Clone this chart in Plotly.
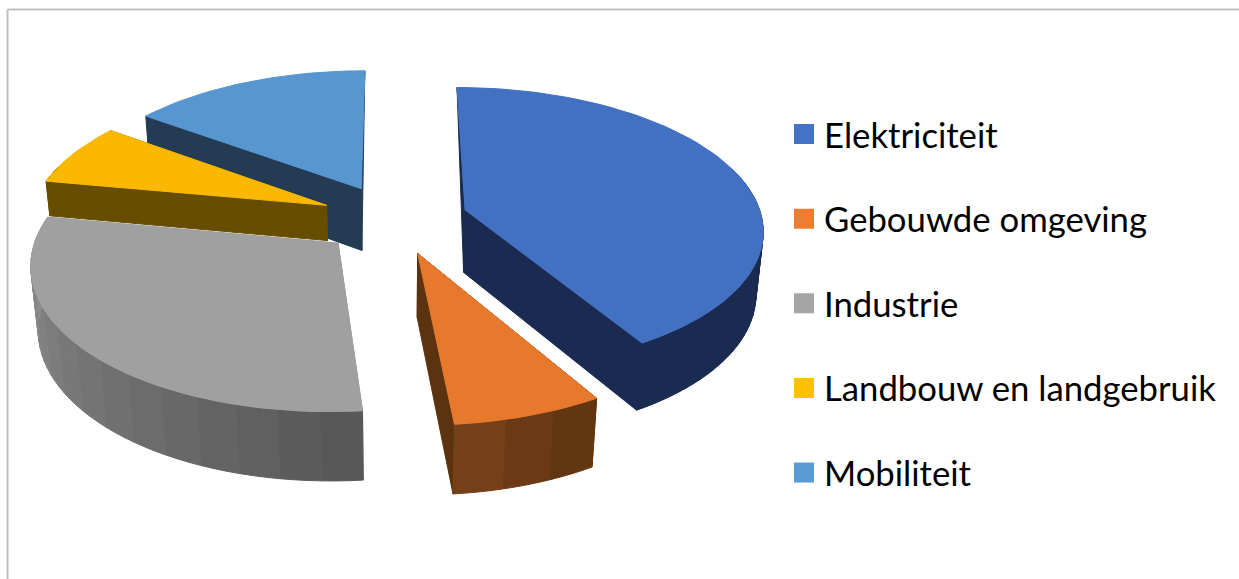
import numpy as np
import plotly.graph_objects as go

categories = ["Elektriciteit", "Gebouwde omgeving", "Industrie", "Landbouw en landgebruik", "Mobiliteit"]
values = [41.5, 7.0, 29.4, 7.1, 15.0]
legend_colors = ["#4472C4", "#ED7D31", "#A5A5A5", "#FFC000", "#5B9BD5"]
top_colors = ["#4371C1", "#E6792B", "#A0A0A0", "#FAB800", "#5896D2"]
edge_colors = ["#1A2A50", "#5C3310", "#909090", "#664D00", "#243B54"]
wall_start = ["#1A2A50", "#5C3310", "#565656", "#664D00", "#243B54"]
wall_end = ["#1A2A50", "#7A4218", "#929292", "#664D00", "#243B54"]
depth_scale = [1.0, 1.0, 1.0, 0.56, 1.0]
draw_order = [4, 2, 3, 1, 0]

CX, CY, R, K, P, Q, H = 394.0, 219.0, 297.0, 0.472, 0.128, 0.02, 0.216
EXPLODE = 0.25


def project(x, y, z=0.0):
    w = 1 + P * y + Q * z
    return CX + R * x / w, CY - R * K * y / w + R * H * z / w


total = sum(values)
fig = go.Figure()
starts = np.cumsum([0] + values[:-1]) / total * 360
spans = np.array(values) / total * 360


def poly(pts, color):
    xs = [p[0] for p in pts] + [pts[0][0]]
    ys = [p[1] for p in pts] + [pts[0][1]]
    fig.add_trace(go.Scatter(x=xs, y=ys, mode="lines", fill="toself", fillcolor=color,
                             line=dict(color=color, width=1), showlegend=False, hoverinfo="skip"))


def mix(a, b, t):
    ca = [int(a[i:i + 2], 16) for i in (1, 3, 5)]
    cb = [int(b[i:i + 2], 16) for i in (1, 3, 5)]
    return "#%02x%02x%02x" % tuple(int(round(u + (v - u) * t)) for u, v in zip(ca, cb))


for i in draw_order:
    a0, span = starts[i], spans[i]
    mid = np.radians(a0 + span / 2)
    ox, oy = EXPLODE * np.sin(mid), EXPLODE * np.cos(mid)
    angs = np.radians(np.linspace(a0, a0 + span, max(int(span / 2), 4) + 1))
    rim = [(ox + np.sin(a), oy + np.cos(a)) for a in angs]
    d = depth_scale[i]
    # radial end walls
    for (ex, ey), ang in ((rim[0], angs[0]), (rim[-1], angs[-1])):
        pts = [project(ox, oy), project(ox, oy, d)]
        if np.cos(ang) < 0.9:  # edges pointing straight back show no outer corner
            pts.append(project(ex, ey, d))
        pts.append(project(ex, ey))
        poly(pts, edge_colors[i])
    # curved outer wall, only the part that faces the viewer
    nf = max(int(span / 7), 2) if wall_start[i] != wall_end[i] else 1
    edges = np.linspace(a0, a0 + span, nf + 1)
    for j in range(nf):
        aa = np.radians(np.linspace(edges[j], edges[j + 1], max(int((edges[j + 1] - edges[j]) / 2), 3) + 1))
        aa = aa[np.cos(aa) < 0.3]
        col = mix(wall_start[i], wall_end[i], (j + 0.5) / nf)
        for a, b in zip(aa[:-1], aa[1:]):
            xa, ya, xb, yb = ox + np.sin(a), oy + np.cos(a), ox + np.sin(b), oy + np.cos(b)
            poly([project(xa, ya), project(xb, yb), project(xb, yb, d), project(xa, ya, d)], col)
    # top face
    poly([project(ox, oy)] + [project(x, y) for x, y in rim], top_colors[i])

for name, col in zip(categories, legend_colors):
    fig.add_trace(go.Scatter(x=[None], y=[None], mode="markers", name=name, legendgroup=name,
                             marker=dict(symbol="square", size=16, color=col, line=dict(color=col, width=4))))

fig.update_layout(
    width=1239, height=579, margin=dict(l=0, r=0, t=0, b=0),
    paper_bgcolor="white", plot_bgcolor="white",
    xaxis=dict(range=[0, 1239], visible=False, fixedrange=True),
    yaxis=dict(range=[579, 0], visible=False, fixedrange=True),
    legend=dict(x=784 / 1239, y=1 - 105 / 579, xanchor="left", yanchor="top", traceorder="grouped",
                tracegroupgap=36.5, font=dict(family="Lato", size=34.7, color="#000000"),
                bgcolor="rgba(0,0,0,0)", itemwidth=30),
    shapes=[dict(type="line", xref="x", yref="y", x0=7.5, y0=9.5, x1=1239, y1=9.5, line=dict(color="#BFBFBF", width=2)),
            dict(type="line", xref="x", yref="y", x0=7.5, y0=9.5, x1=7.5, y1=579, line=dict(color="#BFBFBF", width=2))],
)
fig.write_html("out.html", config=dict(displayModeBar=False),
               post_script="document.body.style.margin='0';document.documentElement.style.overflow='hidden';")
